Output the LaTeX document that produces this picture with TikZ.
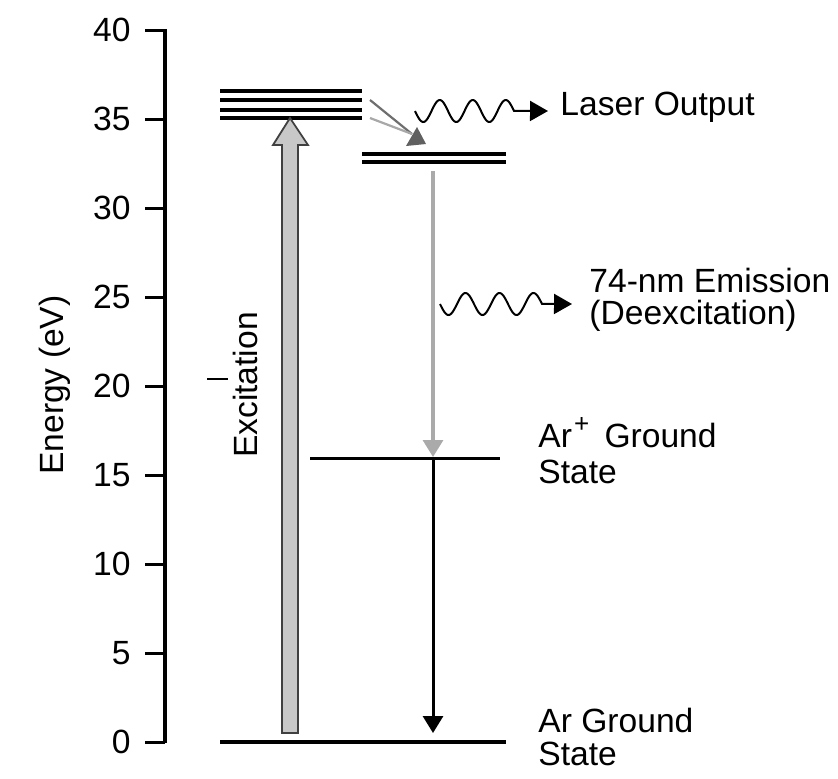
\documentclass[tikz,border=0pt]{standalone}
\usepackage{fontspec}
\setmainfont{Liberation Sans}
\usetikzlibrary{arrows.meta}
\definecolor{excfill}{HTML}{C8C8C8}
\definecolor{excdraw}{HTML}{404040}
\definecolor{relaxA}{HTML}{6E6E6E}
\definecolor{relaxB}{HTML}{A8A8A8}
\definecolor{relaxhead}{HTML}{606060}
\definecolor{deexc}{HTML}{AAAAAA}
\begin{document}
\begin{tikzpicture}[x=0.5pt,y=-0.5pt,
  lbl/.style={inner sep=0pt, anchor=base west, font=\fontsize{16.8}{18}\selectfont},
  ticklbl/.style={inner sep=0pt, anchor=east, font=\fontsize{16.8}{18}\selectfont},
  level/.style={line width=1.6pt},
  wave/.style={line width=1pt, -{Triangle[width=10pt,length=9pt]}},
  downarrow/.style={-{Triangle[width=10pt,length=8.5pt]}},
]
\useasboundingbox (0,0) rectangle (838,778);
% axis
\coordinate (axtop) at (165,29);
\coordinate (axbot) at (165,743);
\draw[line width=2.2pt] (axtop) -- (axbot);
\foreach \v in {0,5,...,40} {
  \pgfmathsetmacro\yy{742-17.8*\v}
  \coordinate (tr\v) at (165,\yy);
  \coordinate (tl\v) at (145,\yy);
  \draw[line width=1.5pt] (tl\v) -- (tr\v);
  \node[ticklbl] (n\v) at (131,\yy) {\v};
}
\node[lbl, rotate=90, anchor=base] (elab) at (63,385) {Energy (eV)};
% upper levels
\foreach \y/\n in {91/a,100/b,110/c,118/d} {
  \coordinate (u\n L) at (220,\y);
  \coordinate (u\n R) at (362,\y);
  \draw[level] (u\n L) -- (u\n R);
}
\coordinate (laL) at (362,154); \coordinate (laR) at (506,154);
\coordinate (lbL) at (362,162); \coordinate (lbR) at (506,162);
\draw[level] (laL) -- (laR);
\draw[level] (lbL) -- (lbR);
% Ar+ ground
\coordinate (ipL) at (310,458); \coordinate (ipR) at (500,458);
\draw[line width=1.5pt] (ipL) -- (ipR);
% Ar ground
\coordinate (gL) at (220,742); \coordinate (gR) at (506,742);
\draw[level] (gL) -- (gR);
% excitation block arrow
\draw[excdraw, fill=excfill, line width=0.9pt, line join=miter]
  (282,733) -- (282,145) -- (273,145) -- (290,118) -- (308,145) -- (298,145) -- (298,733) -- cycle;
\node[lbl, rotate=90, anchor=base] (exc) at (257,385) {Excitation};
\coordinate (dashL) at (207,379); \coordinate (dashR) at (228,379);
\draw[line width=1.4pt] (dashL) -- (dashR);
% relaxation
\coordinate (r1) at (370,100);
\coordinate (r2) at (370,118);
\coordinate (rh) at (412,134);
\draw[relaxA, line width=1.1pt] (r1) -- (rh);
\draw[relaxB, line width=1.1pt] (r2) -- (rh);
\fill[relaxhead] (406,146) -- (426,144) -- (417,127) -- cycle;
% laser output wave
\draw[wave] plot[domain=0:3, samples=100] ({415+33*\x},{111+11*sin(360*\x)}) -- (548,111);
\node[lbl] (laser) at (560,115) {Laser Output};
% deexcitation
\coordinate (d1) at (433,171);
\coordinate (d2) at (433,457);
\draw[deexc, line width=1.6pt, downarrow] (d1) -- (d2);
\draw[wave] plot[domain=0:3, samples=100] ({440+34*\x},{304+11*sin(360*\x)}) -- (572,304);
\node[lbl] (em1) at (589,292) {74-nm Emission};
\node[lbl] (em2) at (589,324) {(Deexcitation)};
% recombination arrow
\coordinate (b1) at (433,459);
\coordinate (b2) at (433,733);
\draw[line width=1.5pt, downarrow] (b1) -- (b2);
% labels
\node[lbl] (arp1) at (538,447) {Ar\kern1pt\raisebox{0.42em}{\fontsize{13}{13}\selectfont +}\kern3pt\ Ground};
\node[lbl] (arp2) at (538,483) {State};
\node[lbl] (ar1) at (538,732) {Ar Ground};
\node[lbl] (ar2) at (538,765) {State};
\end{tikzpicture}
\end{document}
